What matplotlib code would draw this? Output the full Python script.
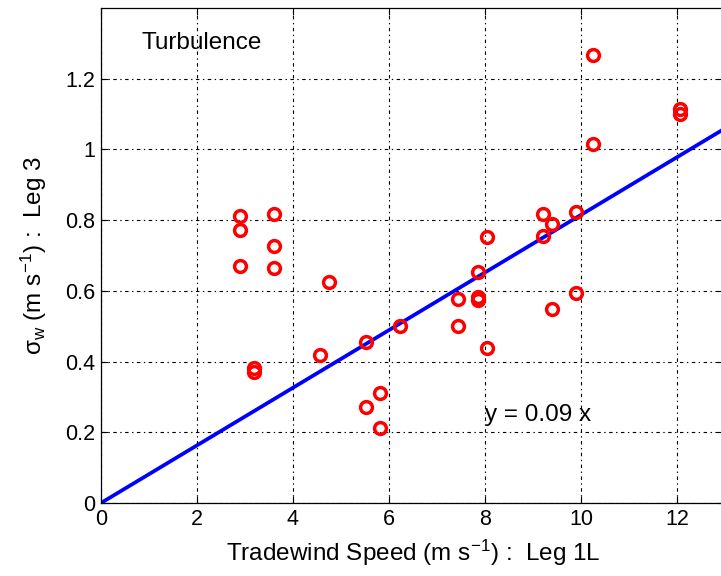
import numpy as np
import matplotlib
matplotlib.use('Agg')
import matplotlib.pyplot as plt

plt.rcParams['font.family'] = ['Liberation Sans', 'DejaVu Sans']
plt.rcParams['mathtext.default'] = 'regular'
plt.rcParams['lines.scale_dashes'] = False

# tradewind speed (leg 1L) vs sigma_w (leg 3)
wind = [2.90, 2.90, 2.90, 3.60, 3.60, 3.60, 3.19, 3.19, 4.75, 4.56,
        5.52, 5.52, 5.81, 5.81, 6.23, 7.44, 7.44, 7.85, 7.85, 7.85,
        8.04, 8.04, 9.21, 9.21, 9.40, 9.40, 9.90, 9.90, 10.25, 10.25,
        12.06, 12.06]
sigma_w = [0.813, 0.773, 0.669, 0.816, 0.728, 0.666, 0.382, 0.371, 0.626, 0.419,
           0.456, 0.272, 0.312, 0.212, 0.501, 0.578, 0.501, 0.652, 0.582, 0.575,
           0.751, 0.439, 0.816, 0.754, 0.788, 0.550, 0.822, 0.595, 1.266, 1.014,
           1.113, 1.099]
fit_slope = 0.0815

xlim = (0, 13)
ylim = (0, 1.4)
xticks = [0, 2, 4, 6, 8, 10, 12]
yticks = [0, 0.2, 0.4, 0.6, 0.8, 1.0, 1.2]
yticklabels = ['0', '0.2', '0.4', '0.6', '0.8', '1', '1.2']

fig = plt.figure(figsize=(7.21, 5.76), dpi=100)
ax = fig.add_axes([0.140, 0.1267, 0.8655, 0.8594])

xx = np.array(xlim, dtype=float)
ax.plot(xx, fit_slope * xx, color='#0000ff', lw=2.7, zorder=2)
ax.plot(wind, sigma_w, 'o', mfc='none', mec='#ff0000', mew=2.5, ms=8.5, zorder=3)

ax.set_xlim(*xlim)
ax.set_ylim(*ylim)
ax.set_xticks(xticks)
ax.set_yticks(yticks)
ax.set_yticklabels(yticklabels)
ax.tick_params(direction='in', length=5, width=0.8, labelsize=15.5,
               top=True, right=True, pad=4)
ax.grid(True, color='black', lw=0.8, linestyle=(0, (2.5, 2.5, 1, 2.5)))
for s in ax.spines.values():
    s.set_linewidth(0.9)

ax.text(0.85, 1.30, 'Turbulence', fontsize=17.5, va='center')
ax.text(8.0, 0.25, 'y = 0.09 x', fontsize=17.5, va='center')

ax.set_xlabel('Tradewind Speed (m s$^{-1}$) :  Leg 1L', fontsize=17.5, labelpad=6)
ax.set_ylabel('σ$_w$ (m s$^{-1}$) :  Leg 3', fontsize=17.5, labelpad=12)

fig.savefig('out.png', dpi=100)
